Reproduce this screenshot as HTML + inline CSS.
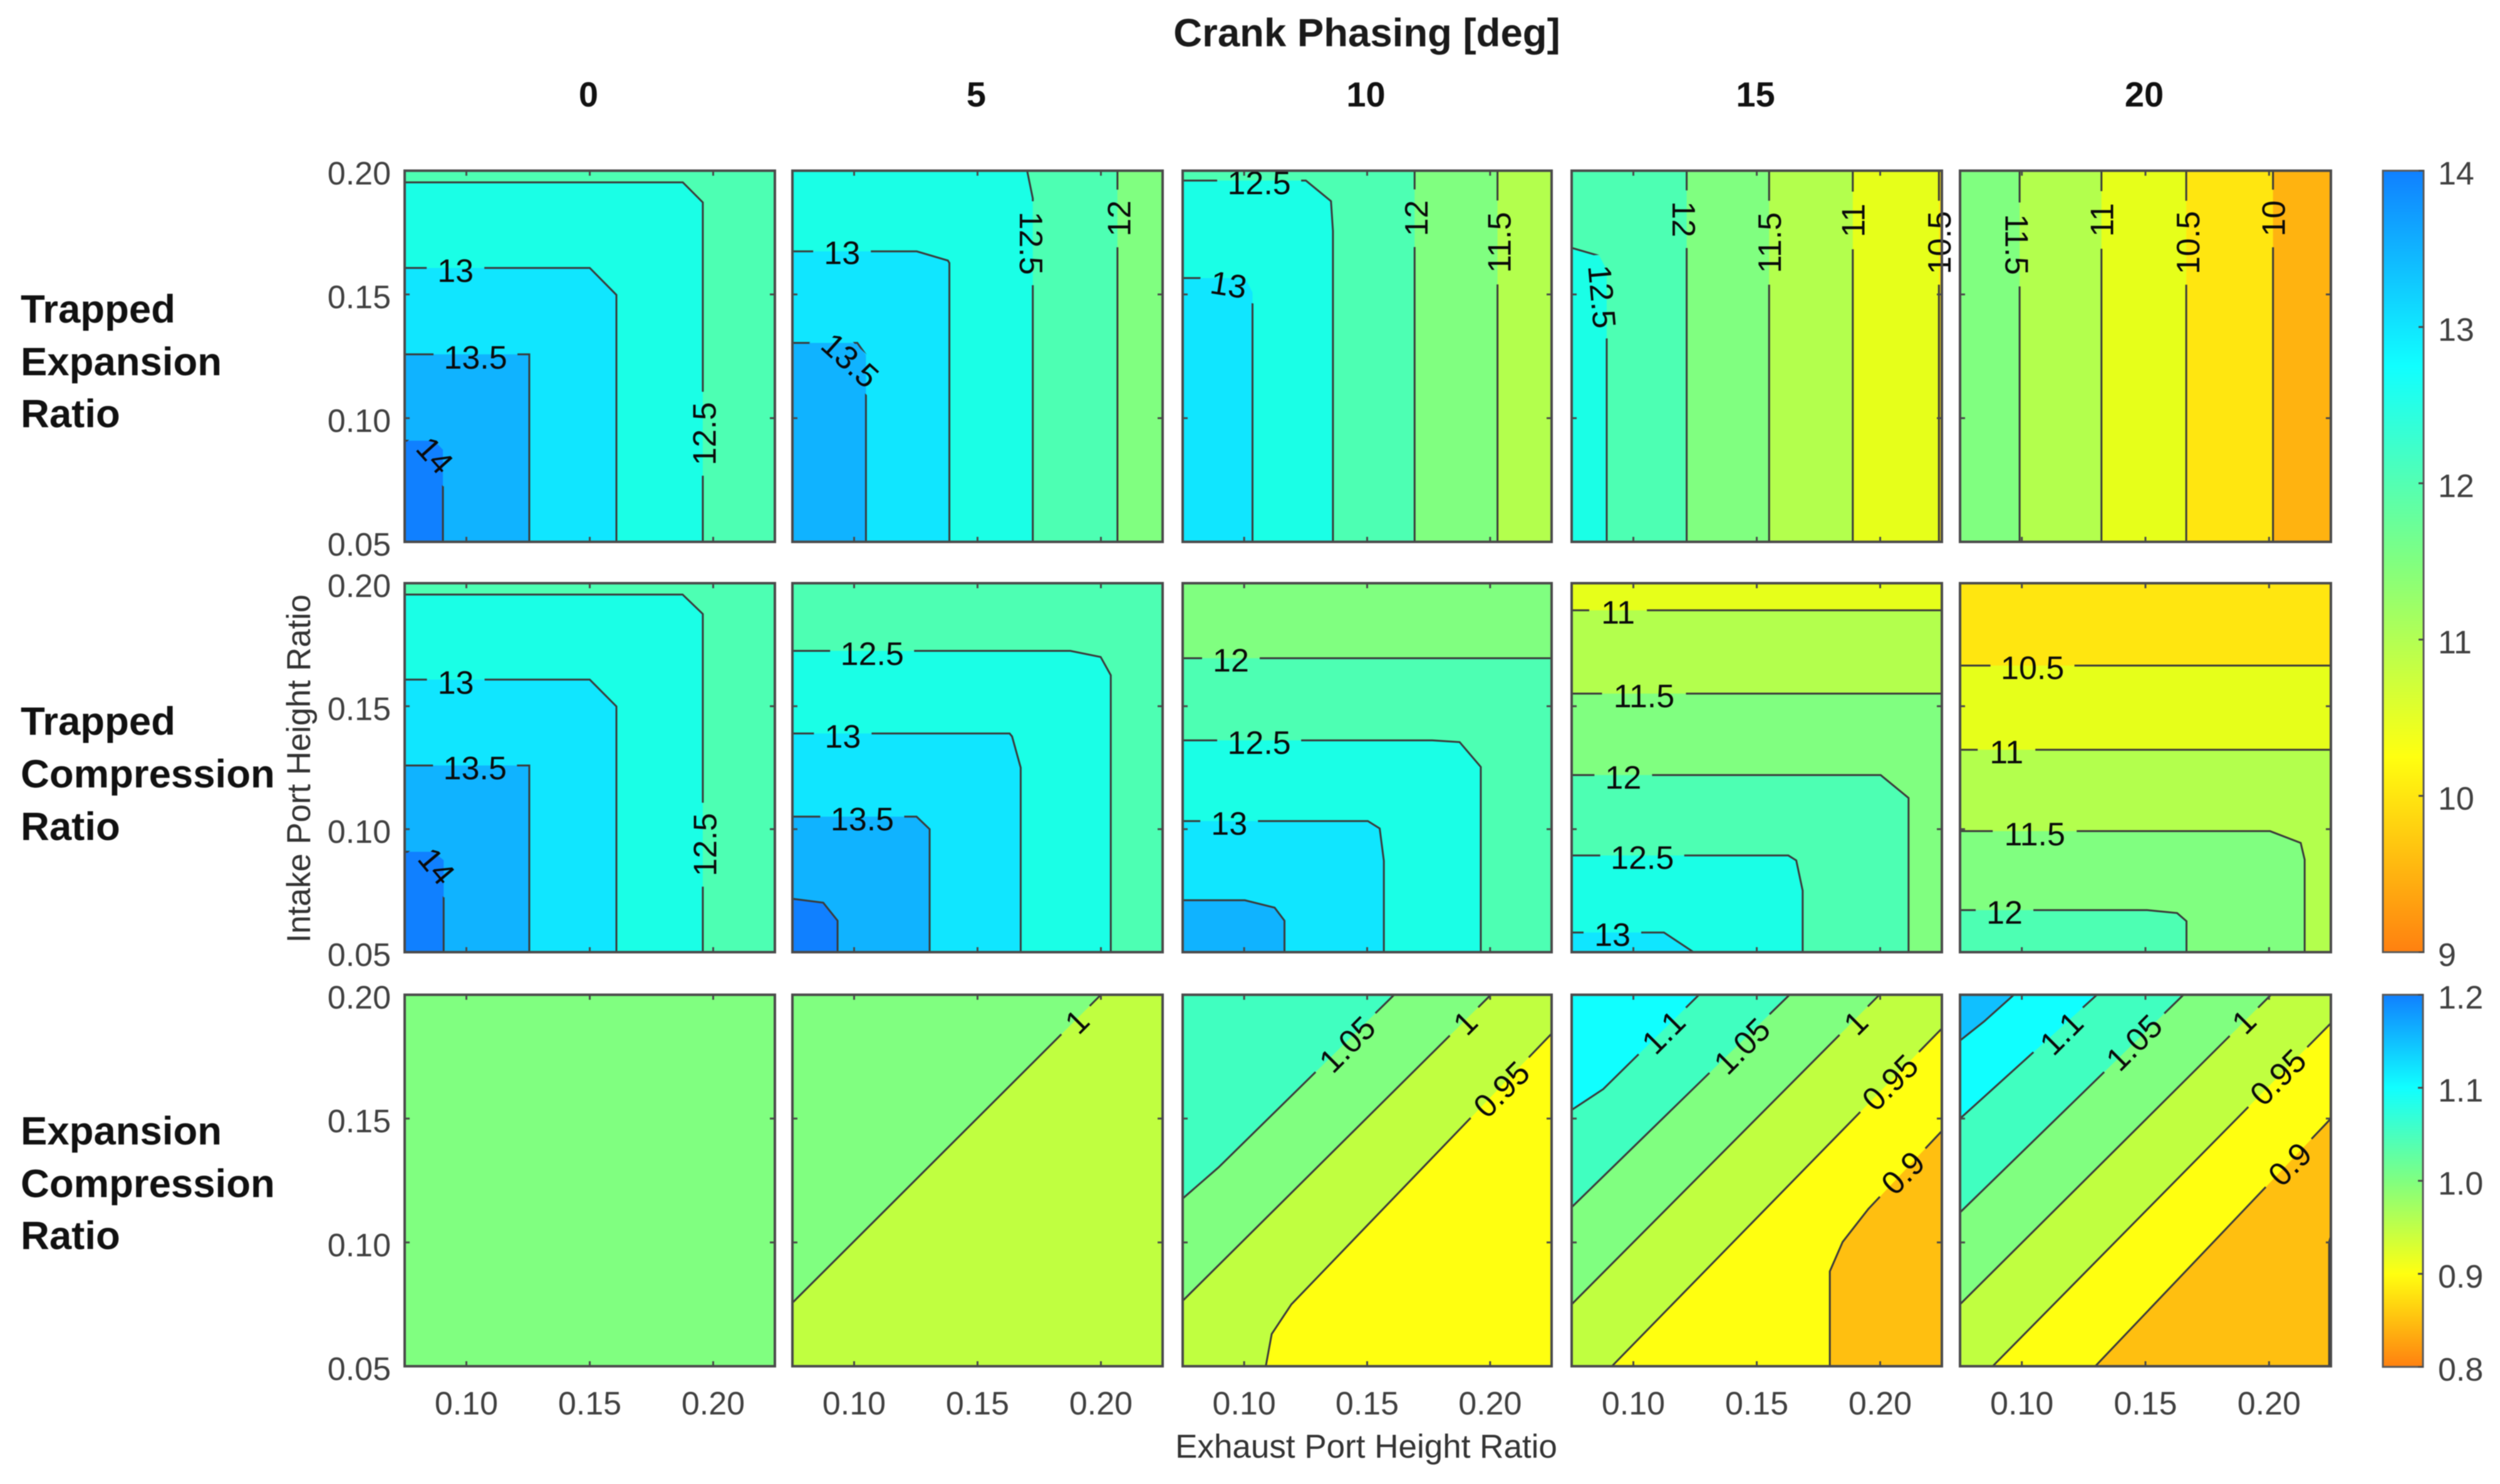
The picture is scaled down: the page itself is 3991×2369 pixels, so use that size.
<!DOCTYPE html>
<html lang="en">
<head>
<meta charset="utf-8">
<title>Contour grid of trapped ratios versus crank phasing</title>
<style>
html,body{margin:0;padding:0;background:#fff;}
svg{display:block;filter:blur(0.9px);}
text{font-family:"Liberation Sans",Arial,sans-serif;}
</style>
</head>
<body>
<svg id="chart" xmlns="http://www.w3.org/2000/svg" width="3991" height="2369" viewBox="0 0 3991 2369">
  <rect width="3991" height="2369" fill="#fff"/>
  <text x="2182" y="74" text-anchor="middle" font-size="63.5" font-weight="700" fill="#1a1a1a">Crank Phasing [deg]</text>
  <text x="2181" y="2327" text-anchor="middle" font-size="53" fill="#333">Exhaust Port Height Ratio</text>
  <text transform="translate(495,1227) rotate(-90)" text-anchor="middle" font-size="52.4" fill="#333">Intake Port Height Ratio</text>
  <text font-size="63.5" font-weight="700" fill="#111"><tspan x="33" y="515">Trapped</tspan><tspan x="33" y="599">Expansion</tspan><tspan x="33" y="682">Ratio</tspan></text>
  <text font-size="63.5" font-weight="700" fill="#111"><tspan x="33" y="1173">Trapped</tspan><tspan x="33" y="1257">Compression</tspan><tspan x="33" y="1341">Ratio</tspan></text>
  <text font-size="63.5" font-weight="700" fill="#111"><tspan x="33" y="1827">Expansion</tspan><tspan x="33" y="1911">Compression</tspan><tspan x="33" y="1994">Ratio</tspan></text>
  <g id="panels"></g>
  <g id="colorbars"></g>
</svg>
<script>
// ---------- categories and tick labels ----------
const crankPhases = ["0", "5", "10", "15", "20"];
const rowKeys = ["trapped-expansion", "trapped-compression", "expansion-compression"];
const xTickValues = [0.10, 0.15, 0.20];
const yTickValues = [0.05, 0.10, 0.15, 0.20];
const xDomain = [0.075, 0.225];
const yDomain = [0.05, 0.20];
const ratioBarTicks = [9, 10, 11, 12, 13, 14];
const ratioBarLabels = ["9", "10", "11", "12", "13", "14"];
const ecrBarTicks = [0.8, 0.9, 1.0, 1.1, 1.2];
const ecrBarLabels = ["0.8", "0.9", "1.0", "1.1", "1.2"];
const ratioDomain = [9, 14];
const ecrDomain = [0.8, 1.2];

// ---------- lowest band level in each panel (row, then crank phase) ----------
const terBase = [12, 11.5, 11, 10, 9.5];
const tcrBase = [12, 12, 11.5, 10.5, 10];
const ecrBase = [1.0, 0.95, 0.9, 0.85, 0.8];

// ---------- contours: [level, [[exhaust, intake], ...]] ----------
const ter0Lines = [
  [12.5, [[0.075,0.1953],[0.1877,0.1953],[0.1958,0.1872],[0.1958,0.05]]],
  [13, [[0.075,0.1607],[0.15,0.1607],[0.1608,0.1498],[0.1608,0.05]]],
  [13.5, [[0.075,0.1258],[0.1255,0.1258],[0.1255,0.05]]],
  [14, [[0.075,0.0909],[0.087,0.0909],[0.0905,0.0872],[0.0905,0.05]]]
];
const ter5Lines = [
  [12, [[0.2067,0.2],[0.2067,0.05]]],
  [12.5, [[0.1701,0.2],[0.1724,0.1888],[0.1724,0.05]]],
  [13, [[0.075,0.1674],[0.1254,0.1674],[0.138,0.1637],[0.1386,0.1627],[0.1386,0.05]]],
  [13.5, [[0.075,0.1304],[0.1013,0.1304],[0.1048,0.1255],[0.1048,0.05]]]
];
const ter10Lines = [
  [11.5, [[0.203,0.2],[0.203,0.05]]],
  [12, [[0.1693,0.2],[0.1693,0.05]]],
  [12.5, [[0.075,0.196],[0.1251,0.196],[0.1353,0.1877],[0.1361,0.1756],[0.1361,0.05]]],
  [13, [[0.075,0.1566],[0.1004,0.1566],[0.1034,0.1508],[0.1034,0.05]]]
];
const ter15Lines = [
  [10.5, [[0.2238,0.2],[0.2238,0.05]]],
  [11, [[0.1889,0.2],[0.1889,0.05]]],
  [11.5, [[0.155,0.2],[0.155,0.05]]],
  [12, [[0.1216,0.2],[0.1216,0.05]]],
  [12.5, [[0.075,0.1688],[0.0862,0.1656],[0.0892,0.16],[0.0892,0.05]]]
];
const ter20Lines = [
  [10, [[0.2016,0.2],[0.2016,0.05]]],
  [10.5, [[0.1665,0.2],[0.1665,0.05]]],
  [11, [[0.1322,0.2],[0.1322,0.05]]],
  [11.5, [[0.0991,0.2],[0.0991,0.05]]]
];
const tcr0Lines = [
  [12.5, [[0.075,0.1954],[0.1876,0.1954],[0.1958,0.1875],[0.1958,0.05]]],
  [13, [[0.075,0.1608],[0.15,0.1608],[0.1608,0.1499],[0.1608,0.05]]],
  [13.5, [[0.075,0.1259],[0.1255,0.1259],[0.1255,0.05]]],
  [14, [[0.075,0.0908],[0.0866,0.0908],[0.0908,0.0874],[0.0908,0.05]]]
];
const tcr5Lines = [
  [12.5, [[0.075,0.1725],[0.1876,0.1725],[0.1999,0.17],[0.204,0.1626],[0.204,0.05]]],
  [13, [[0.075,0.1389],[0.163,0.1389],[0.164,0.1377],[0.1675,0.125],[0.1675,0.05]]],
  [13.5, [[0.075,0.1051],[0.1253,0.1051],[0.1306,0.1],[0.1306,0.05]]],
  [14, [[0.075,0.0717],[0.0875,0.0701],[0.0933,0.0628],[0.0933,0.05]]]
];
const tcr10Lines = [
  [12, [[0.075,0.1695],[0.225,0.1695]]],
  [12.5, [[0.075,0.1361],[0.1765,0.1361],[0.1876,0.1354],[0.1962,0.1253],[0.1962,0.05]]],
  [13, [[0.075,0.1033],[0.1503,0.1033],[0.1551,0.1003],[0.1568,0.0871],[0.1568,0.05]]],
  [13.5, [[0.075,0.0711],[0.1003,0.0711],[0.1124,0.0681],[0.1164,0.0628],[0.1164,0.05]]]
];
const tcr15Lines = [
  [11, [[0.075,0.189],[0.225,0.189]]],
  [11.5, [[0.075,0.1551],[0.225,0.1551]]],
  [12, [[0.075,0.122],[0.2002,0.122],[0.2115,0.1127],[0.2115,0.05]]],
  [12.5, [[0.075,0.0893],[0.1628,0.0893],[0.166,0.0873],[0.1686,0.075],[0.1686,0.05]]],
  [13, [[0.075,0.058],[0.1124,0.058],[0.1244,0.05]]]
];
const tcr20Lines = [
  [10.5, [[0.075,0.1665],[0.225,0.1665]]],
  [11, [[0.075,0.1323],[0.225,0.1323]]],
  [11.5, [[0.075,0.0992],[0.2004,0.0992],[0.2128,0.0944],[0.2144,0.0876],[0.2144,0.05]]],
  [12, [[0.075,0.0671],[0.1507,0.0671],[0.1628,0.0659],[0.1666,0.0626],[0.1666,0.05]]]
];
const ecr0Lines = [];
const ecr5Lines = [
  [1, [[0.075,0.0756],[0.2,0.2]]]
];
const ecr10Lines = [
  [0.95, [[0.1088,0.05],[0.1112,0.063],[0.1192,0.075],[0.1314,0.0876],[0.225,0.1843]]],
  [1, [[0.075,0.0764],[0.2003,0.2]]],
  [1.05, [[0.075,0.1177],[0.0896,0.1303],[0.161,0.2]]]
];
const ecr15Lines = [
  [0.9, [[0.1796,0.05],[0.1796,0.0883],[0.1848,0.1002],[0.1952,0.1135],[0.225,0.145]]],
  [0.95, [[0.0913,0.05],[0.225,0.1864]]],
  [1, [[0.075,0.075],[0.1997,0.2]]],
  [1.05, [[0.075,0.1142],[0.1633,0.2]]],
  [1.1, [[0.075,0.1535],[0.0878,0.1619],[0.1266,0.2]]]
];
const ecr20Lines = [
  [0.85, [[0.2243,0.05],[0.2243,0.1002],[0.225,0.1025]]],
  [0.9, [[0.1297,0.05],[0.225,0.15]]],
  [0.95, [[0.0882,0.05],[0.225,0.1885]]],
  [1, [[0.075,0.075],[0.2008,0.2]]],
  [1.05, [[0.075,0.1121],[0.1654,0.2]]],
  [1.1, [[0.075,0.15],[0.1304,0.2]]],
  [1.15, [[0.075,0.1815],[0.0847,0.1892],[0.0968,0.2]]]
];

// ---------- contour labels: [text, exhaust, intake, rotation in degrees] ----------
const ter0Labels = [["13",0.0956,0.1598,0],["13.5",0.1037,0.1248,0],["14",0.0874,0.0851,48],["12.5",0.1962,0.0937,-90]];
const ter5Labels = [["13",0.0951,0.167,0],["13.5",0.0985,0.1235,42],["12.5",0.1719,0.1707,90],["12",0.2072,0.1807,-90]];
const ter10Labels = [["12.5",0.1061,0.1953,0],["13",0.0937,0.1541,9],["12",0.1698,0.1808,-90],["11.5",0.2035,0.171,-90]];
const ter15Labels = [["12",0.1206,0.1804,90],["11.5",0.155,0.1709,-90],["11",0.1889,0.1799,-90],["10.5",0.2238,0.1709,-90],["12.5",0.0875,0.1491,85]];
const ter20Labels = [["11.5",0.0981,0.1702,90],["11",0.1322,0.1801,-90],["10.5",0.167,0.1709,-90],["10",0.2016,0.1807,-90]];
const tcr0Labels = [["13",0.0957,0.1598,0],["13.5",0.1035,0.125,0],["14",0.0881,0.0851,50],["12.5",0.1965,0.0937,-90]];
const tcr5Labels = [["12.5",0.1073,0.1715,0],["13",0.0954,0.1379,0],["13.5",0.1033,0.1043,0]];
const tcr10Labels = [["12",0.0946,0.1688,0],["12.5",0.1061,0.1354,0],["13",0.0939,0.1025,0]];
const tcr15Labels = [["11",0.0938,0.1884,0],["11.5",0.1043,0.1543,0],["12",0.0959,0.1213,0],["12.5",0.1036,0.0886,0],["13",0.0915,0.0573,0]];
const tcr20Labels = [["10.5",0.1043,0.1658,0],["11",0.0938,0.1316,0],["11.5",0.1052,0.0982,0],["12",0.093,0.0664,0]];
const ecr0Labels = [];
const ecr5Labels = [["1",0.1902,0.1893,-45]];
const ecr10Labels = [["1.05",0.1418,0.1801,-45],["1",0.1898,0.1888,-45],["0.95",0.2045,0.1619,-45]];
const ecr15Labels = [["1.1",0.1121,0.185,-45],["1.05",0.1439,0.1794,-45],["1",0.19,0.1888,-45],["0.95",0.2039,0.1647,-45],["0.9",0.2091,0.1282,-45]];
const ecr20Labels = [["1.1",0.1159,0.1846,-45],["1.05",0.1453,0.1808,-45],["1",0.1897,0.1892,-45],["0.95",0.2035,0.1668,-45],["0.9",0.2083,0.1317,-45]];

const baseLevels = [terBase, tcrBase, ecrBase];
const panelLines = [
  [ter0Lines, ter5Lines, ter10Lines, ter15Lines, ter20Lines],
  [tcr0Lines, tcr5Lines, tcr10Lines, tcr15Lines, tcr20Lines],
  [ecr0Lines, ecr5Lines, ecr10Lines, ecr15Lines, ecr20Lines]
];
const panelLabels = [
  [ter0Labels, ter5Labels, ter10Labels, ter15Labels, ter20Labels],
  [tcr0Labels, tcr5Labels, tcr10Labels, tcr15Labels, tcr20Labels],
  [ecr0Labels, ecr5Labels, ecr10Labels, ecr15Labels, ecr20Labels]
];

// ---------- layout ----------
const NS = "http://www.w3.org/2000/svg";
const colEdges = [[646,1237],[1265,1856],[1888,2477],[2509,3100],[3129,3721]];
const rowEdges = [[272.5,865],[931,1520],[1588,2181]];
const CMAP = [[255,127.5,0],[255,255,0],[128,255,128],[0,255,255],[0,128,255]];

function mk(tag, parent, attrs) {
  const e = document.createElementNS(NS, tag);
  for (const k in attrs) e.setAttribute(k, attrs[k]);
  parent.appendChild(e);
  return e;
}
function colorAt(v, dom) {
  const t = Math.max(0, Math.min(3.9999, (v - dom[0]) / (dom[1] - dom[0]) * 4));
  const i = Math.floor(t), f = t - i;
  const c = CMAP[i].map((a, k) => Math.max(16, Math.round(a + (CMAP[i + 1][k] - a) * f)));
  return "rgb(" + c.join(",") + ")";
}
function scaleX(col) {
  const [a, b] = colEdges[col];
  return x => a + (x - xDomain[0]) / (xDomain[1] - xDomain[0]) * (b - a);
}
function scaleY(row) {
  const [t, b] = rowEdges[row];
  return y => b - (y - yDomain[0]) / (yDomain[1] - yDomain[0]) * (b - t);
}
function regionPoints(pts, row) {
  const [xmin, xmax] = xDomain, [ymin, ymax] = yDomain;
  const poly = pts.slice();
  const s = pts[0], e = pts[pts.length - 1];
  if (row < 2) {
    if (e[0] === xmax) poly.push([xmax, ymin]);
    poly.push([xmin, ymin]);
    if (s[1] === ymax) poly.push([xmin, ymax]);
  } else {
    if (e[0] === xmax) poly.push([xmax, ymax]);
    poly.push([xmin, ymax]);
    if (s[1] === ymin) poly.push([xmin, ymin]);
  }
  return poly;
}
function labelWidth(t) {
  let w = 0;
  for (const ch of t) w += ch === "." ? 14 : 28;
  return w;
}

const root = document.getElementById("panels");
panelLines.forEach((rowPanels, r) => {
  const dom = r < 2 ? ratioDomain : ecrDomain;
  rowPanels.forEach((lines, c) => {
    const sx = scaleX(c), sy = scaleY(r);
    const [L, R] = colEdges[c], [T, B] = rowEdges[r];
    const g = mk("g", root, {});
    
    

    const base = mk("rect", g, {x: L, y: T, width: R - L, height: B - T, fill: colorAt(baseLevels[r][c], dom)});
    
    

    lines.forEach(([level, pts]) => {
      const band = mk("polygon", g, {
        points: regionPoints(pts, r).map(p => sx(p[0]) + "," + sy(p[1])).join(" "),
        fill: colorAt(level, dom)
      });
      
      
    });

    const labels = panelLabels[r][c];
    const maskId = "m" + r + "_" + c;
    const mask = mk("mask", g, {id: maskId, maskUnits: "userSpaceOnUse", x: L - 5, y: T - 5, width: R - L + 10, height: B - T + 10});
    mk("rect", mask, {x: L - 5, y: T - 5, width: R - L + 10, height: B - T + 10, fill: "#fff"});
    labels.forEach(([t, x, y, rot]) => {
      const w = labelWidth(t) + 36;
      mk("rect", mask, {x: -w / 2, y: -24, width: w, height: 48, fill: "#000",
        transform: "translate(" + sx(x) + "," + sy(y) + ") rotate(" + rot + ")"});
    });

    const lineGroup = mk("g", g, {mask: "url(#" + maskId + ")"});
    lines.forEach(([level, pts]) => {
      const line = mk("polyline", lineGroup, {
        points: pts.map(p => sx(p[0]) + "," + sy(p[1])).join(" "),
        fill: "none", stroke: "#3a3a3a", "stroke-width": 3
      });
      
      
    });

    labels.forEach(([t, x, y, rot]) => {
      const label = mk("text", g, {
        transform: "translate(" + sx(x) + "," + sy(y) + ") rotate(" + rot + ")",
        "text-anchor": "middle", dy: "0.36em", "font-size": 52, fill: "#0a0a0a"
      });
      label.textContent = t;
      
      
    });

    const box = mk("rect", g, {x: L, y: T, width: R - L, height: B - T, fill: "none", stroke: "#4a4a4a", "stroke-width": 4});
    
    

    xTickValues.forEach(v => {
      const tick = mk("path", g, {
        d: "M" + sx(v) + " " + B + "v-8M" + sx(v) + " " + T + "v8",
        stroke: "#4a4a4a", "stroke-width": 3, fill: "none"
      });
      
      
      if (r === 2) {
        const lab = mk("text", g, {x: sx(v), y: 2258, "text-anchor": "middle", "font-size": 52, fill: "#404040"});
        lab.textContent = v.toFixed(2);
        
        
      }
    });
    yTickValues.forEach(v => {
      const tick = mk("path", g, {
        d: "M" + L + " " + sy(v) + "h8M" + R + " " + sy(v) + "h-8",
        stroke: "#4a4a4a", "stroke-width": 3, fill: "none"
      });
      
      
      if (c === 0) {
        const lab = mk("text", g, {x: 624, y: sy(v) + 22, "text-anchor": "end", "font-size": 52, fill: "#404040"});
        lab.textContent = v.toFixed(2);
        
        
      }
    });
  });
});

crankPhases.forEach((p, c) => {
  const [L, R] = colEdges[c];
  const head = mk("text", root, {x: (L + R) / 2 - 2, y: 170, "text-anchor": "middle", "font-size": 56, "font-weight": 700, fill: "#111"});
  head.textContent = p;
  
  
});

// ---------- colour bars ----------
const barRoot = document.getElementById("colorbars");
const defs = mk("defs", barRoot, {});
function drawBar(id, dom, top, bottom, ticks, labels, left, right) {
  const grad = mk("linearGradient", defs, {id: id, x1: 0, y1: 1, x2: 0, y2: 0});
  [0, 0.25, 0.5, 0.75, 1].forEach(o => {
    mk("stop", grad, {offset: o, "stop-color": colorAt(dom[0] + o * (dom[1] - dom[0]), dom)});
  });
  const g = mk("g", barRoot, {});
  
  
  const bar = mk("rect", g, {x: left, y: top, width: right - left, height: bottom - top, fill: "url(#" + id + ")", stroke: "#5a5a5a", "stroke-width": 3});
  
  
  const sy = v => bottom - (v - dom[0]) / (dom[1] - dom[0]) * (bottom - top);
  ticks.forEach((v, i) => {
    const tick = mk("path", g, {d: "M" + right + " " + sy(v) + "h-8", stroke: "#4a4a4a", "stroke-width": 3, fill: "none"});
    
    
    const lab = mk("text", g, {x: 3892, y: sy(v) + 22, "font-size": 52, fill: "#404040"});
    lab.textContent = labels[i];
    
    
  });
}
drawBar("ratio-colorbar", ratioDomain, 272.5, 1520, ratioBarTicks, ratioBarLabels, 3804, 3869);
drawBar("ecr-colorbar", ecrDomain, 1588, 2182, ecrBarTicks, ecrBarLabels, 3804, 3868);
</script>
</body>
</html>
